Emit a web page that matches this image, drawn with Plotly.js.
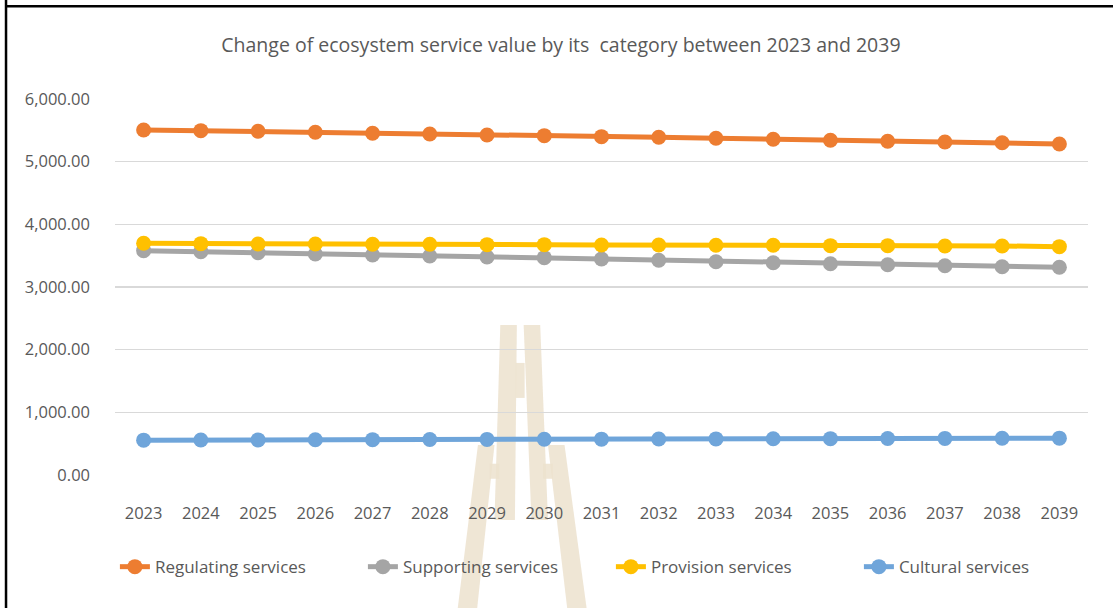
<!DOCTYPE html>
<html>
<head>
<meta charset="utf-8">
<script src="https://cdn.plot.ly/plotly-3.0.1.min.js"></script>
<style>html,body{margin:0;padding:0;background:#fff;}#chart{width:1113px;height:608px;}</style>
</head>
<body>
<div id="chart"></div>
<script>
const years = ['2023','2024','2025','2026','2027','2028','2029','2030','2031','2032','2033','2034','2035','2036','2037','2038','2039'];
const regulating = [5506,5495,5485,5469,5453,5442,5426,5415,5399,5390,5374,5358,5342,5326,5315,5303,5283];
const supporting = [3580,3564,3548,3527,3511,3495,3479,3468,3447,3426,3404,3388,3372,3356,3340,3324,3315];
const provision  = [3698,3692,3687,3687,3682,3682,3676,3676,3671,3671,3666,3666,3660,3660,3655,3655,3644];
const cultural   = [556,558,560,562,564,566,568,570,572,574,576,578,580,582,584,586,588];
const seriesNames = ['Regulating services','Supporting services','Provision services','Cultural services'];
const seriesColors = ['#ED7D31','#A5A5A5','#FFC000','#6FA5DA'];
const seriesData = [regulating, supporting, provision, cultural];

const traces = seriesData.map((vals, i) => ({
  x: years, y: vals, type: 'scatter', mode: 'lines+markers',
  name: seriesNames[i],
  line: {color: seriesColors[i], width: 5},
  marker: {color: seriesColors[i], size: 15}
}));

const fontFam = '"Open Sans", "Noto Sans", sans-serif';
const beige = 'rgba(236,226,206,0.85)';
const layout = {
  width: 1113, height: 608,
  margin: {l: 115, r: 25, t: 99, b: 133},
  paper_bgcolor: '#ffffff', plot_bgcolor: '#ffffff',
  font: {family: fontFam, color: '#595959', size: 16},
  title: {text: 'Change of ecosystem service value by its  category between 2023 and 2039',
          font: {family: fontFam, size: 19.5, color: '#595959'},
          x: 0.504, xanchor: 'center', y: 0.925, yanchor: 'middle'},
  xaxis: {type: 'category', range: [-0.5, 16.5], showgrid: false, zeroline: false,
          showline: false, ticks: '', ticklabelstandoff: 26,
          tickfont: {family: fontFam, size: 16.5, color: '#595959'}},
  yaxis: {range: [0, 6000], dtick: 1000, tick0: 0, tickformat: ',.2f',
          showgrid: true, gridcolor: '#D9D9D9', gridwidth: 1.5, zeroline: false,
          showline: false, ticks: '', ticklabelstandoff: 24,
          tickfont: {family: fontFam, size: 16.5, color: '#595959'}},
  showlegend: true,
  legend: {orientation: 'h', x: -0.0001, xanchor: 'left', y: -0.245, yanchor: 'middle',
           entrywidth: 203, entrywidthmode: 'pixels',
           font: {family: fontFam, size: 17, color: '#595959'}, bgcolor: 'rgba(0,0,0,0)'},
  shapes: [
    {type: 'line', xref: 'paper', yref: 'paper', x0: -0.112, x1: -0.112, y0: 1.27, y1: -0.36,
     line: {color: '#000', width: 2.5}},
    {type: 'line', xref: 'paper', yref: 'paper', x0: -0.112, x1: 1.03, y0: 1.247, y1: 1.247,
     line: {color: '#000', width: 2.5}},
    // watermark (approximate)
    {type: 'path', xref: 'paper', yref: 'paper', layer: 'below', fillcolor: beige, line: {width: 0},
     path: 'M 0.396,0.399 L 0.413,0.399 L 0.411,-0.12 L 0.390,-0.12 Z'},
    {type: 'path', xref: 'paper', yref: 'paper', layer: 'below', fillcolor: beige, line: {width: 0},
     path: 'M 0.420,0.399 L 0.437,0.399 L 0.445,-0.12 L 0.428,-0.12 Z'},
    {type: 'path', xref: 'paper', yref: 'paper', layer: 'below', fillcolor: beige, line: {width: 0},
     path: 'M 0.412,0.298 L 0.421,0.298 L 0.421,0.205 L 0.412,0.205 Z'},
    {type: 'path', xref: 'paper', yref: 'paper', layer: 'below', fillcolor: beige, line: {width: 0},
     path: 'M 0.373,0.08 L 0.390,0.08 L 0.372,-0.36 L 0.352,-0.36 Z'},
    {type: 'path', xref: 'paper', yref: 'paper', layer: 'below', fillcolor: beige, line: {width: 0},
     path: 'M 0.445,0.08 L 0.462,0.08 L 0.485,-0.36 L 0.465,-0.36 Z'},
    {type: 'path', xref: 'paper', yref: 'paper', layer: 'below', fillcolor: beige, line: {width: 0},
     path: 'M 0.385,0.03 L 0.395,0.03 L 0.395,-0.01 L 0.385,-0.01 Z'},
    {type: 'path', xref: 'paper', yref: 'paper', layer: 'below', fillcolor: beige, line: {width: 0},
     path: 'M 0.440,0.03 L 0.450,0.03 L 0.450,-0.01 L 0.440,-0.01 Z'}
  ]
};
Plotly.newPlot('chart', traces, layout, {displayModeBar: false, staticPlot: true});
</script>
</body>
</html>
